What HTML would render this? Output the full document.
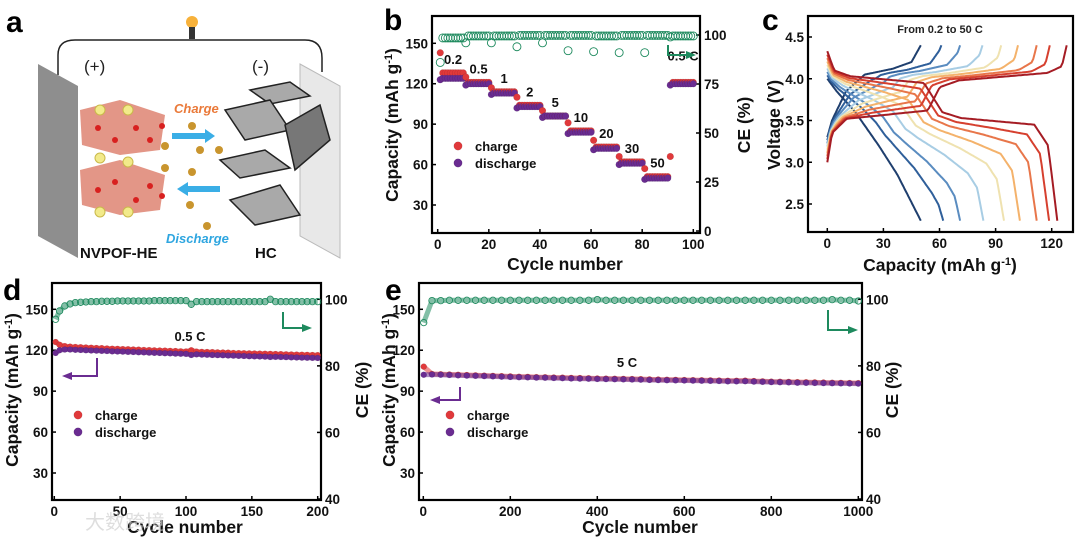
<!DOCTYPE html>
<html><head><meta charset="utf-8"><style>
html,body{margin:0;padding:0;background:#fff;}
svg{display:block;font-family:"Liberation Sans","Noto Sans CJK SC",sans-serif;}
.tk{font-size:13.5px;font-weight:bold;fill:#111;}
.ti{font-size:17.5px;font-weight:bold;fill:#111;}
.pl{font-size:30px;font-weight:bold;fill:#000;}
.lg{font-size:13px;font-weight:bold;fill:#111;}
</style></head><body>
<svg id="fig" width="1080" height="541" viewBox="0 0 1080 541" xmlns="http://www.w3.org/2000/svg">
<g>
<text class="pl" x="6" y="32">a</text>
<path d="M58,75 L58,55 Q58,40 75,40 L305,40 Q322,40 322,58 L322,72" fill="none" stroke="#222" stroke-width="1.5"/>
<circle cx="192" cy="22" r="6" fill="#f7b13a"/>
<rect x="189" y="27" width="6" height="12" fill="#333"/>
<polygon points="38,64 78,86 78,258 38,236" fill="#8e8e8e"/>
<polygon points="300,64 340,86 340,258 300,236" fill="#e8e8e8" stroke="#bbb"/>
<text x="84" y="72" font-size="17" fill="#222">(+)</text>
<text x="252" y="72" font-size="17" fill="#222">(-)</text>
<g>
<polygon points="80,110 120,100 165,115 160,150 120,155 82,145" fill="#d9735f" opacity="0.75"/>
<polygon points="80,170 120,160 165,175 160,210 120,215 82,205" fill="#d9735f" opacity="0.75"/>
<g fill="#d8201f">
<circle cx="98" cy="128" r="3"/><circle cx="115" cy="140" r="3"/><circle cx="136" cy="128" r="3"/><circle cx="150" cy="140" r="3"/><circle cx="162" cy="126" r="3"/>
<circle cx="98" cy="190" r="3"/><circle cx="115" cy="182" r="3"/><circle cx="136" cy="200" r="3"/><circle cx="150" cy="186" r="3"/><circle cx="162" cy="196" r="3"/>
</g>
<g fill="#f2ea8a" stroke="#c9b94a"><circle cx="100" cy="110" r="5"/><circle cx="128" cy="110" r="5"/><circle cx="100" cy="158" r="5"/><circle cx="128" cy="162" r="5"/><circle cx="100" cy="212" r="5"/><circle cx="128" cy="212" r="5"/></g>
</g>
<g fill="#c9952e">
<circle cx="192" cy="126" r="4"/><circle cx="165" cy="146" r="4"/><circle cx="200" cy="150" r="4"/><circle cx="219" cy="150" r="4"/><circle cx="165" cy="168" r="4"/><circle cx="192" cy="172" r="4"/><circle cx="190" cy="205" r="4"/><circle cx="207" cy="226" r="4"/>
</g>
<polygon points="172,133 205,133 205,129 215,136 205,143 205,139 172,139" fill="#3aaee6"/>
<polygon points="220,186 188,186 188,182 177,189 188,196 188,192 220,192" fill="#3aaee6"/>
<text x="174" y="113" font-size="13" font-weight="bold" font-style="italic" fill="#ea7a3a">Charge</text>
<text x="166" y="243" font-size="13" font-weight="bold" font-style="italic" fill="#2fa6e0">Discharge</text>
<g fill="#a9a9a9" stroke="#222" stroke-width="1.5">
<polygon points="250,90 290,82 310,96 270,104"/>
<polygon points="225,110 270,100 290,130 245,140"/>
<polygon points="285,125 320,105 330,140 295,170" fill="#777"/>
<polygon points="220,160 265,150 290,168 240,178"/>
<polygon points="230,200 280,185 300,215 255,225"/>
</g>
<text x="80" y="258" font-size="15" font-weight="bold" fill="#111">NVPOF-HE</text>
<text x="255" y="258" font-size="15" font-weight="bold" fill="#111">HC</text>
</g>
<g id="charts"></g>
</svg>
<script>
// ===== Panel b data (rate performance) =====
const bGroups = [0,1,2,3,4,5,6,7,8,9];
const bRateLabels = ["0.2","0.5","1","2","5","10","20","30","50","0.5 C"];
const bChargeFirst = [143,125,117,110,100,91,78,66,57,66];
const bChargePlateau = [128,121,114,104,96,85,73,62,51,121];
const bDischargePlateau = [124,120,113,103,96,84,72,61,50,120];
const bCeFirst = [86,96,96,94,96,92,91.5,91,91,99];
const bCePlateau = [98.5,99.5,99.5,99.8,99.8,99.8,99.5,99.8,99.8,99.5];
const bXTicks = [0,20,40,60,80,100];
const bYTicks = [30,60,90,120,150];
const bRTicks = [0,25,50,75,100];
// ===== Panel c data (voltage profiles) =====
const cChargeCap = [50,61,71,83,93,102,112,119,128];
const cDischargeCap = [50,62,71,83.5,94.5,103,112,118.6,123];
const cColors = ["#1f3f6e","#2f5f9a","#5a8cc0","#a8cde4","#efe2b0","#f4b26b","#e8764a","#d6402f","#a51c24"];
const cXTicks = [0,30,60,90,120];
const cYTicks = [2.5,3.0,3.5,4.0,4.5];
// ===== Panel d data (every 4 cycles, 0.5 C) =====
const dCycles = [1,4,8,12,16,20,24,28,32,36,40,44,48,52,56,60,64,68,72,76,80,84,88,92,96,100,104,108,112,116,120,124,128,132,136,140,144,148,152,156,160,164,168,172,176,180,184,188,192,196,200];
const dCharge = [126,124,123,122.6,122.4,122.2,122,121.8,121.6,121.5,121.3,121.1,121,120.8,120.7,120.5,120.4,120.2,120.1,119.9,119.8,119.7,119.5,119.4,119.2,119.1,120,119,118.8,118.7,118.6,118.4,118.3,118.2,118,117.9,117.8,117.7,117.6,117.5,117.4,117.3,117.2,117.1,117,116.9,116.8,116.7,116.6,116.5,116.4];
const dDischarge = [118,120,120.5,120.5,120.3,120.2,120,119.8,119.7,119.5,119.4,119.2,119.1,119,118.8,118.7,118.5,118.4,118.2,118.1,118,117.8,117.7,117.5,117.4,117.3,116.5,117,116.8,116.7,116.5,116.4,116.3,116.1,116,115.9,115.8,115.6,115.5,115.4,115.3,115,115.1,115,114.9,114.8,114.7,114.6,114.5,114.4,114.3];
const dCE = [94,96.5,98,98.6,99,99.1,99.2,99.3,99.3,99.4,99.4,99.4,99.5,99.5,99.5,99.5,99.5,99.5,99.5,99.6,99.6,99.6,99.6,99.6,99.6,99.6,98.5,99.3,99.3,99.3,99.3,99.3,99.3,99.3,99.3,99.3,99.3,99.3,99.3,99.3,99.3,100,99.3,99.3,99.3,99.3,99.3,99.3,99.3,99.3,99.3];
const dXTicks = [0,50,100,150,200];
const dYTicks = [30,60,90,120,150];
const dRTicks = [40,60,80,100];
// ===== Panel e data (every 20 cycles, 5 C) =====
const eCycles = [1,20,40,60,80,100,120,140,160,180,200,220,240,260,280,300,320,340,360,380,400,420,440,460,480,500,520,540,560,580,600,620,640,660,680,700,720,740,760,780,800,820,840,860,880,900,920,940,960,980,1000];
const eCharge = [108,102.6,102.4,102.2,102,101.8,101.6,101.4,101.2,101,100.8,100.6,100.5,100.3,100.2,100,99.9,99.7,99.6,99.5,99.3,99.2,99.1,99,98.9,98.8,98.6,98.5,98.4,98.3,98.2,98.1,98,97.9,97.8,97.6,97.6,97.7,97.4,97.2,97,96.9,96.8,96.6,96.5,96.4,96.3,96.2,96.1,96,95.9];
const eDischarge = [102,102.2,102,101.8,101.6,101.4,101.2,101,100.8,100.6,100.4,100.2,100.1,99.9,99.8,99.6,99.5,99.3,99.2,99.1,98.9,98.8,98.7,98.6,98.5,98.4,98.2,98.1,98,97.9,97.8,97.7,97.6,97.5,97.4,97.2,97.2,97.3,97,96.8,96.6,96.5,96.4,96.2,96.1,96,95.9,95.8,95.7,95.6,95.5];
const eCE = [93,99.6,99.6,99.7,99.7,99.7,99.7,99.7,99.7,99.7,99.7,99.7,99.7,99.7,99.7,99.7,99.7,99.7,99.7,99.7,99.9,99.7,99.7,99.7,99.7,99.7,99.7,99.7,99.7,99.7,99.7,99.7,99.7,99.7,99.7,99.7,99.7,99.7,99.7,99.7,99.7,99.7,99.7,99.7,99.7,99.7,99.7,99.9,99.7,99.7,99.5];
const eXTicks = [0,200,400,600,800,1000];
const eYTicks = [30,60,90,120,150];
const eRTicks = [40,60,80,100];

const NS = "http://www.w3.org/2000/svg";
const root = document.getElementById('charts');
function mk(tag, attrs, parent){const e=document.createElementNS(NS,tag);for(const k in attrs)e.setAttribute(k,attrs[k]);(parent||root).appendChild(e);return e;}
function txt(s, attrs, parent){const e=mk('text',attrs,parent);e.textContent=s;return e;}
const RED="#e0393b", PUR="#6a2c91", GRN="#1e8a5e";

function lin(d0,d1,p0,p1){return v=>p0+(v-d0)*(p1-p0)/(d1-d0);}

function frame(g, box, xs, xT, ys, yT, rs, rT, fmtY){
  const r=mk('rect',{x:box.x0,y:box.y0,width:box.x1-box.x0,height:box.y1-box.y0,fill:'none',stroke:'#000','stroke-width':2.2},g);
  
  
  xT.forEach(v=>{const X=xs(v);
    mk('line',{x1:X,x2:X,y1:box.y1,y2:box.y1-4,stroke:'#000','stroke-width':1.5},g);
    const t=txt(String(v),{x:X,y:box.y1+16,class:'tk','text-anchor':'middle'},g);
    
    });
  yT.forEach(v=>{const Y=ys(v);
    mk('line',{x1:box.x0,x2:box.x0+4,y1:Y,y2:Y,stroke:'#000','stroke-width':1.5},g);
    const t=txt(fmtY?fmtY(v):String(v),{x:box.x0-4,y:Y+5,class:'tk','text-anchor':'end'},g);
    
    });
  if(rs) rT.forEach(v=>{const Y=rs(v);
    mk('line',{x1:box.x1,x2:box.x1-4,y1:Y,y2:Y,stroke:'#000','stroke-width':1.5},g);
    const t=txt(String(v),{x:box.x1+4,y:Y+5,class:'tk'},g);
    
    });
}
function vtitle(g,s,x,y,name){const t=txt('',{x:0,y:0,class:'ti','text-anchor':'middle',transform:`translate(${x},${y}) rotate(-90)`},g);
  t.innerHTML=s;
  
  }
function htitle(g,s,x,y,name){const t=txt('',{x:x,y:y,class:'ti','text-anchor':'middle'},g);t.innerHTML=s;
  
  }
function dot(g,x,y,fill,r){return mk('circle',{cx:x,cy:y,r:r||3.4,fill:fill,stroke:'rgba(0,0,0,0.15)','stroke-width':0.5},g);}
function ring(g,x,y,r){return mk('circle',{cx:x,cy:y,r:r||3.6,fill:'none',stroke:GRN,'stroke-width':0.9},g);}
function legend(g,x,y){
  const a=dot(g,x,y,RED,4.2);
  const t1=txt('charge',{x:x+17,y:y+5,class:'lg'},g);
  const b=dot(g,x,y+17,PUR,4.2);
  const t2=txt('discharge',{x:x+17,y:y+22,class:'lg'},g);
}
function arrow(g,pts,color,name){
  const p=mk('polyline',{points:pts.map(q=>q.join(',')).join(' '),fill:'none',stroke:color,'stroke-width':2},g);
  
  
  const [xa,ya]=pts[pts.length-1],[xb,yb]=pts[pts.length-2];const dir=Math.sign(xa-xb);
  mk('polygon',{points:`${xa+dir*6},${ya} ${xa-dir*4},${ya-4} ${xa-dir*4},${ya+4}`,fill:color},g);
}
const CAP='Capacity (mAh g<tspan dy="-6" font-size="11">-1</tspan><tspan dy="6">)</tspan>';

// ---------- Panel b ----------
{
  const g=mk('g',{});
  const box={x0:432,x1:700,y0:16,y1:233};
  const xs=lin(0,100,437.7,693.3), ys=lin(150,30,43.3,205), rs=lin(0,100,231,35);
  frame(g,box,xs,bXTicks,ys,bYTicks,rs,bRTicks);
  const tl=txt('b',{x:384,y:30,class:'pl'},g);
  bGroups.forEach(gi=>{
    for(let k=0;k<10;k++){
      const c=gi*10+k+1;
      const ce=k===0?bCeFirst[gi]:bCePlateau[gi];
      const r=ring(g,xs(c),rs(ce),4);
      const cv=k===0?bChargeFirst[gi]:bChargePlateau[gi];
      const a=dot(g,xs(c),ys(cv),RED);
      const d=dot(g,xs(c),ys(bDischargePlateau[gi]-(k===0?1:0)),PUR);
    }
    const lbx=gi===9?xs(96):xs(gi*10+6), lby=gi===9?ys(bChargePlateau[gi])-22:ys(bChargePlateau[gi])-9;
    const t=txt(bRateLabels[gi],{x:lbx,y:lby,class:'lg','text-anchor':'middle','font-size':12},g);
    
  });
  legend(g,458,146);
  arrow(g,[[668,45],[668,55],[690,55]],GRN,'ce-axis-arrow');
  vtitle(g,CAP,398,125,'y-axis-title');
  vtitle(g,'CE (%)',750,125,'right-axis-title');
  htitle(g,'Cycle number',565,270,'x-axis-title');
}
// ---------- Panel c ----------
function interp(knots,f){for(let i=1;i<knots.length;i++){if(f<=knots[i][0]){const [a,va]=knots[i-1],[b,vb]=knots[i];return va+(vb-va)*(f-a)/(b-a);}}return knots[knots.length-1][1];}
{
  const g=mk('g',{});
  const box={x0:808,x1:1073,y0:16,y1:232};
  const xs=lin(0,120,827.3,1051.7), ys=lin(4.5,2.5,37,204);
  frame(g,box,xs,cXTicks,ys,cYTicks,null,null,v=>v.toFixed(1));
  const tl=txt('c',{x:762,y:30,class:'pl'},g);
  const chLow=[[0,3.0],[0.02,3.35],[0.08,3.52],[0.42,3.62],[0.47,3.9],[0.55,3.98],[0.92,4.07],[0.98,4.15],[1,4.4]];
  const chHigh=[[0,3.3],[0.05,3.5],[0.2,3.85],[0.4,4.05],[0.7,4.12],[0.9,4.2],[1,4.4]];
  const dcLow=[[0,4.33],[0.03,4.1],[0.1,4.03],[0.42,3.95],[0.5,3.6],[0.58,3.53],[0.9,3.45],[0.96,3.2],[1,2.3]];
  const dcHigh=[[0,4.0],[0.1,3.85],[0.3,3.6],[0.55,3.2],[0.75,2.85],[1,2.3]];
  cChargeCap.forEach((Q,i)=>{
    const t=(cChargeCap.length-1-i)/(cChargeCap.length-1);
    let p1=[],p2=[];
    for(let s=0;s<=120;s++){const f=s/120;
      p1.push(xs(Q*f).toFixed(1)+','+ys((1-t)*interp(chLow,f)+t*interp(chHigh,f)).toFixed(1));
      p2.push(xs(cDischargeCap[i]*f).toFixed(1)+','+ys((1-t)*interp(dcLow,f)+t*interp(dcHigh,f)).toFixed(1));}
    const a=mk('polyline',{points:p1.join(' '),fill:'none',stroke:cColors[i],'stroke-width':2},g);
    
    const b=mk('polyline',{points:p2.join(' '),fill:'none',stroke:cColors[i],'stroke-width':2},g);
    
  });
  const n=txt('From 0.2 to 50 C',{x:940,y:33,'font-size':11,'font-weight':'bold','text-anchor':'middle',fill:'#222'},g);
  
  vtitle(g,'Voltage (V)',780,125,'y-axis-title');
  htitle(g,CAP,940,271,'x-axis-title');
}
// ---------- Panels d, e ----------
function cycPanel(name,letter,lx,box,xd,xp,xT,cyc,ch,dc,ce,legXY,rateTxt,rateXY,purArr,grnArr,yTitleX,rTitleX,xTitleX){
  const g=mk('g',{});
  const xs=lin(0,xd,xp[0],xp[1]), ys=lin(150,30,309.3,473), rs=lin(40,100,499,299.3);
  frame(g,box,xs,xT,ys,dYTicks,rs,dRTicks);
  const tl=txt(letter,{x:lx,y:300,class:'pl'},g);
  const band=(arr,scale,color,nm)=>{const p=mk('polyline',{points:cyc.map((c,i)=>xs(c).toFixed(1)+','+scale(arr[i]).toFixed(1)).join(' '),fill:'none',stroke:color,'stroke-width':5,'stroke-opacity':0.55},g);
    };
  band(ce,rs,GRN,'ce-band');
  cyc.forEach((c,i)=>{const r=ring(g,xs(c),rs(ce[i]),3.2);});
  band(ch,ys,RED,'charge-band');
  cyc.forEach((c,i)=>{const a=dot(g,xs(c),ys(ch[i]),RED,3);});
  band(dc,ys,PUR,'discharge-band');
  cyc.forEach((c,i)=>{const d=dot(g,xs(c),ys(dc[i]),PUR,3);});
  legend(g,legXY[0],legXY[1]);
  const rt=txt(rateTxt,{x:rateXY[0],y:rateXY[1],class:'lg','text-anchor':'middle'},g);
  arrow(g,purArr,PUR,'capacity-axis-arrow');
  arrow(g,grnArr,GRN,'ce-axis-arrow');
  vtitle(g,CAP,yTitleX,390,'y-axis-title');
  vtitle(g,'CE (%)',rTitleX,390,'right-axis-title');
  htitle(g,'Cycle number',xTitleX,533,'x-axis-title');
}
cycPanel('panel-d-cycling-chart','d',3,{x0:52,x1:321,y0:283,y1:500},200,[54.3,317.7],dXTicks,dCycles,dCharge,dDischarge,dCE,[78,415],'0.5 C',[190,341],[[97,358],[97,376],[68,376]],[[283,312],[283,328],[306,328]],18,368,185);
cycPanel('panel-e-cycling-chart','e',385,{x0:419,x1:862,y0:283,y1:500},1000,[423.3,858.3],eXTicks,eCycles,eCharge,eDischarge,eCE,[450,415],'5 C',[627,367],[[460,387],[460,400],[436,400]],[[828,310],[828,330],[852,330]],395,898,640);
const wm=txt('大数跨境',{x:85,y:529,'font-size':20,fill:'#d0d0d0','fill-opacity':0.7});


</script>
</body></html>
